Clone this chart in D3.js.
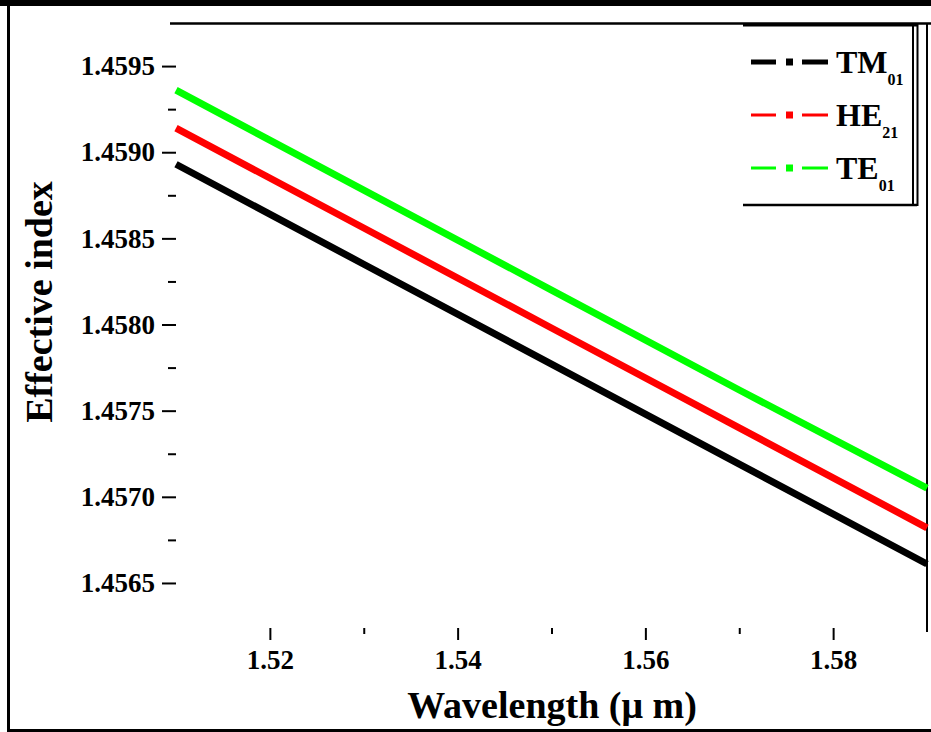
<!DOCTYPE html>
<html>
<head>
<meta charset="utf-8">
<script src="https://cdn.jsdelivr.net/npm/d3@7"></script>
<style>
  html, body { margin: 0; padding: 0; background: #fff; }
  svg { display: block; }
  text { font-family: "Liberation Serif", "Times New Roman", serif; font-weight: bold; fill: #000; }
</style>
</head>
<body>
<svg id="chart" width="931" height="732"></svg>
<script>
// ---- data ----
const wavelength = [1.51, 1.53, 1.55, 1.57, 1.59];
const tm01 = [1.45893, 1.45835, 1.45777, 1.45719, 1.45661];
const he21 = [1.45914, 1.45856, 1.45798, 1.45740, 1.45682];
const te01 = [1.45936, 1.45878, 1.45820, 1.45762, 1.45705];
const seriesNames = ["TM", "HE", "TE"];
const seriesSubs = ["01", "21", "01"];
const seriesColors = ["#000000", "#ff0000", "#00ff00"];
const xTicks = [1.52, 1.54, 1.56, 1.58];
const xMinorTicks = [1.53, 1.55, 1.57];
const yTicks = [1.4565, 1.4570, 1.4575, 1.4580, 1.4585, 1.4590, 1.4595];
const yMinorTicks = [1.45675, 1.45725, 1.45775, 1.45825, 1.45875, 1.45925];
const xTitle = "Wavelength (\u03bc m)";
const yTitle = "Effective index";

const svg = d3.select("#chart");
const L = 176, R = 927, T = 23, B = 630;

const x = d3.scaleLinear().domain([1.51, 1.59]).range([L, R]);
const y = d3.scaleLinear().domain([1.456227, 1.45975]).range([B, T]);

// outer frame
svg.append("rect").attr("x", 0).attr("y", 0).attr("width", 931).attr("height", 6).attr("fill", "#000");
svg.append("rect").attr("x", 7).attr("y", 0).attr("width", 3).attr("height", 732).attr("fill", "#000");
svg.append("rect").attr("x", 7).attr("y", 729).attr("width", 924).attr("height", 3).attr("fill", "#000");

// top & right axis lines
svg.append("line").attr("x1", 170).attr("x2", 931).attr("y1", 23.5).attr("y2", 23.5)
  .attr("stroke", "#000").attr("stroke-width", 2.5);
svg.append("line").attr("x1", 927).attr("x2", 927).attr("y1", 23).attr("y2", 632)
  .attr("stroke", "#000").attr("stroke-width", 2);

// y axis (left, ticks outward, no domain line)
const yAxis = d3.axisLeft(y).tickValues(yTicks).tickSize(14).tickPadding(7)
  .tickFormat(d3.format(".4f"));
const gy = svg.append("g").attr("transform", `translate(${L},0)`).call(yAxis);
gy.select(".domain").remove();
gy.selectAll(".tick line").attr("stroke", "#000").attr("stroke-width", 2);
gy.selectAll(".tick text").style("font-size", "27px").style("font-family", "Liberation Serif").style("font-weight", "bold").attr("fill", "#000");
const gym = svg.append("g").attr("transform", `translate(${L},0)`)
  .call(d3.axisLeft(y).tickValues(yMinorTicks).tickSize(8).tickFormat(""));
gym.select(".domain").remove();
gym.selectAll(".tick line").attr("stroke", "#000").attr("stroke-width", 2);

// x axis (bottom, ticks outward, no domain line)
const xAxis = d3.axisBottom(x).tickValues(xTicks).tickSize(12).tickPadding(10)
  .tickFormat(d3.format(".2f"));
const gx = svg.append("g").attr("transform", `translate(0,${B - 2})`).call(xAxis);
gx.select(".domain").remove();
gx.selectAll(".tick line").attr("stroke", "#000").attr("stroke-width", 2);
gx.selectAll(".tick text").style("font-size", "27px").style("font-family", "Liberation Serif").style("font-weight", "bold").attr("fill", "#000");
const gxm = svg.append("g").attr("transform", `translate(0,${B - 2})`)
  .call(d3.axisBottom(x).tickValues(xMinorTicks).tickSize(6).tickFormat(""));
gxm.select(".domain").remove();
gxm.selectAll(".tick line").attr("stroke", "#000").attr("stroke-width", 2);

// lines
const allSeries = [tm01, he21, te01];
const line = d3.line().x((d, i) => x(wavelength[i])).y(d => y(d));
allSeries.forEach((s, k) => {
  svg.append("path").datum(s).attr("d", line)
    .attr("fill", "none").attr("stroke", seriesColors[k]).attr("stroke-width", 7);
});

// axis titles
svg.append("text").attr("x", 552).attr("y", 718).attr("text-anchor", "middle")
  .style("font-size", "38px").text(xTitle);
svg.append("text").attr("transform", "translate(52,302) rotate(-90)").attr("text-anchor", "middle")
  .style("font-size", "38px").text(yTitle);

// legend
const lg = svg.append("g");
lg.append("line").attr("x1", 743).attr("x2", 917).attr("y1", 205).attr("y2", 205).attr("stroke", "#000").attr("stroke-width", 2.5);
lg.append("line").attr("x1", 913).attr("x2", 913).attr("y1", 24).attr("y2", 206).attr("stroke", "#000").attr("stroke-width", 2);
lg.append("line").attr("x1", 917.5).attr("x2", 917.5).attr("y1", 24).attr("y2", 206).attr("stroke", "#000").attr("stroke-width", 2);
lg.append("line").attr("x1", 743).attr("x2", 917).attr("y1", 25).attr("y2", 25).attr("stroke", "#000").attr("stroke-width", 3);
const rowY = [62, 115, 168];
seriesNames.forEach((nm, k) => {
  const yy = rowY[k];
  const c = seriesColors[k];
  lg.append("line").attr("x1", 751).attr("x2", 776).attr("y1", yy).attr("y2", yy).attr("stroke", c).attr("stroke-width", k === 0 ? 5 : 3);
  lg.append("rect").attr("x", 786).attr("y", yy - 3.5).attr("width", 7).attr("height", 7).attr("fill", c);
  lg.append("line").attr("x1", 802).attr("x2", 828).attr("y1", yy).attr("y2", yy).attr("stroke", c).attr("stroke-width", k === 0 ? 5 : 3);
  const t = lg.append("text").attr("x", 836).attr("y", yy + 11).style("font-size", "32px");
  t.append("tspan").text(nm);
  t.append("tspan").attr("dy", 12).style("font-size", "16px").text(seriesSubs[k]);
});
</script>
</body>
</html>
